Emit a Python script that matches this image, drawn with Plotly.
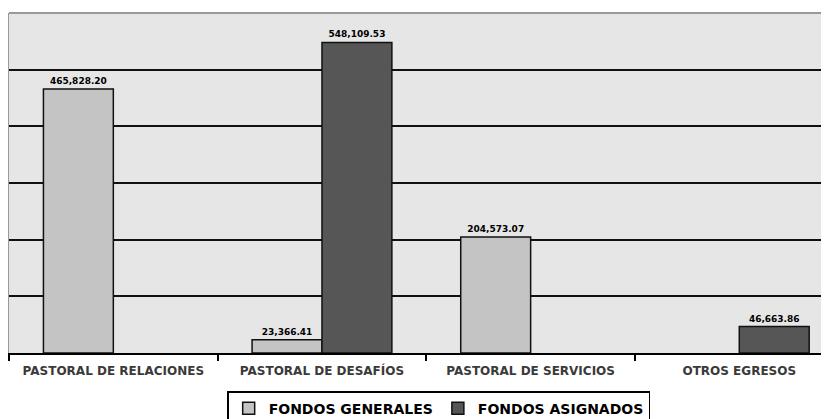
import plotly.graph_objects as go

categories = ["PASTORAL DE RELACIONES", "PASTORAL DE DESAFÍOS", "PASTORAL DE SERVICIOS", "OTROS EGRESOS"]
fondos_generales = [465828.20, 23366.41, 204573.07, None]
fondos_asignados = [None, 548109.53, None, 46663.86]

def labels(vals):
    return ["" if v is None else f"{v:,.2f}" for v in vals]

label_font = dict(family="DejaVu Sans", size=9, color="#000000", weight="bold")

fig = go.Figure()
fig.add_trace(go.Bar(
    name="FONDOS GENERALES", x=categories, y=fondos_generales,
    text=labels(fondos_generales), textposition="outside", cliponaxis=False,
    marker=dict(color="#c4c4c4", line=dict(color="#111111", width=1.5)),
    textfont=label_font,
))
fig.add_trace(go.Bar(
    name="FONDOS ASIGNADOS", x=categories, y=fondos_asignados,
    text=labels(fondos_asignados), textposition="outside", cliponaxis=False,
    marker=dict(color="#565656", line=dict(color="#111111", width=1.5)),
    textfont=label_font,
))

fig.update_layout(
    width=821, height=411,
    margin=dict(l=1, r=0, t=5, b=66, autoexpand=False),
    paper_bgcolor="white", plot_bgcolor="#e6e6e6",
    barmode="group", bargap=0.33, bargroupgap=0,
    font=dict(family="DejaVu Sans", color="#000000"),
    showlegend=True,
    legend=dict(orientation="h", x=0.524, xanchor="center",
                yref="container", y=0.068, yanchor="top",
                bordercolor="#000000", borderwidth=1.5, bgcolor="white",
                font=dict(size=14, weight="bold", color="#000000"),
                itemwidth=30, traceorder="normal", tracegroupgap=0),
    xaxis=dict(range=[-0.5, 3.43], showgrid=False, showline=True, linecolor="#000000",
               linewidth=1.5, ticks="outside", tickson="boundaries", ticklen=6,
               tickcolor="#000000", tickwidth=1.5, automargin=False, ticklabelstandoff=6,
               tickfont=dict(family="DejaVu Sans", size=12, color="#3a3a3a", weight="bold")),
    yaxis=dict(range=[0, 600000], dtick=100000, showticklabels=False, showgrid=True,
               gridcolor="#111111", gridwidth=1.5, zeroline=False, showline=True,
               linecolor="#999999", linewidth=1.5, ticks="", automargin=False),
    shapes=[dict(type="line", xref="paper", yref="paper", x0=0, x1=1, y0=1, y1=1,
                 line=dict(color="#999999", width=2))],
)

fig.write_html("out.html")
